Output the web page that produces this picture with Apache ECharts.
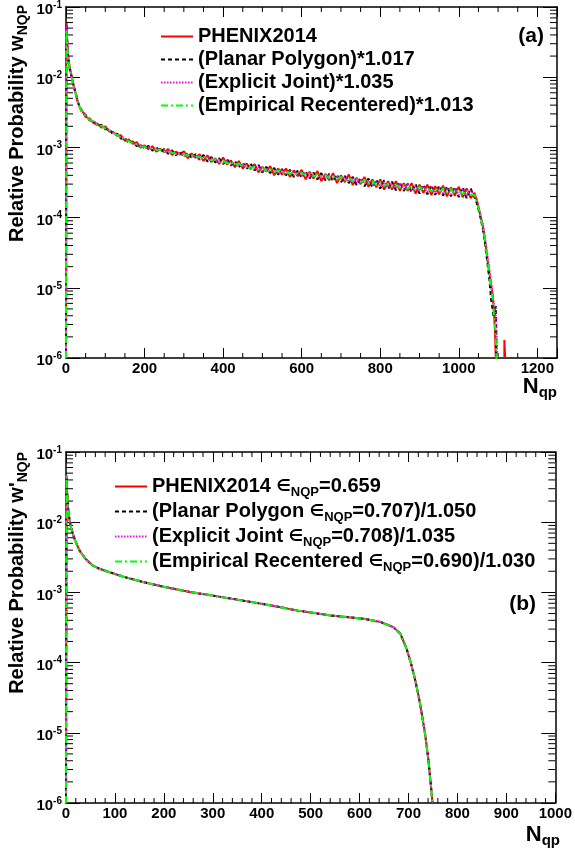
<!DOCTYPE html>
<html><head><meta charset="utf-8">
<script src="https://cdn.jsdelivr.net/npm/echarts@6/dist/echarts.min.js"></script>
<style>html,body{margin:0;padding:0;background:#fff}#c{width:575px;height:849px}</style>
</head><body><div id="c"></div><script>
// ---------- data: panel (a) ----------
const nqpTop = [0,1,2,3,4,5,7,10,15,20,25,30,35,
40,50,60,70,80,90,100,110,120,130,140,150,160,170,180,190,200,210,220,230,240,250,260,270,280,290,300,
310,320,330,340,350,360,370,380,390,400,410,420,430,440,450,460,470,480,490,500,510,520,530,540,550,
560,570,580,590,600,610,620,630,640,650,660,670,680,690,700,710,720,730,740,750,760,770,780,790,800,
810,820,830,840,850,860,870,880,890,900,910,920,930,940,950,960,970,980,990,1000,1010,1020,1030,1040,
1046,1052,1056,1061,1066,1070,1074,1078,1082,1086,1089,1092,1094,1096,1098];
const phenixTop = [1e-6,0.062,0.044,0.033,0.027,0.022,0.017,0.0135,0.0100,0.0074,0.0058,0.0044,0.0037,
34e-4,27.2e-4,25.9e-4,22.1e-4,21.8e-4,19.2e-4,19.9e-4,16.9e-4,16.6e-4,14.6e-4,14.9e-4,12.4e-4,13.0e-4,11.2e-4,11.9e-4,9.9e-4,10.7e-4,
9.4e-4,10.4e-4,8.7e-4,9.6e-4,8.5e-4,9.5e-4,7.8e-4,8.7e-4,7.9e-4,8.8e-4,7.0e-4,8.2e-4,7.1e-4,8.0e-4,6.4e-4,7.7e-4,6.2e-4,7.0e-4,5.8e-4,7.2e-4,
5.7e-4,6.5e-4,5.2e-4,6.4e-4,5.0e-4,5.9e-4,4.9e-4,5.8e-4,4.4e-4,5.3e-4,4.5e-4,5.4e-4,4.0e-4,5.0e-4,4.1e-4,5.0e-4,3.8e-4,4.7e-4,3.9e-4,4.8e-4,
3.5e-4,4.5e-4,3.6e-4,4.6e-4,3.3e-4,4.2e-4,3.4e-4,4.3e-4,3.1e-4,4.0e-4,3.2e-4,4.1e-4,2.9e-4,3.7e-4,3.0e-4,3.8e-4,2.75e-4,3.5e-4,2.7e-4,3.5e-4,
2.5e-4,3.3e-4,2.5e-4,3.3e-4,2.4e-4,3.1e-4,2.4e-4,3.1e-4,2.2e-4,2.95e-4,2.25e-4,2.95e-4,2.1e-4,2.8e-4,2.15e-4,2.85e-4,2.0e-4,2.7e-4,2.05e-4,2.75e-4,
1.95e-4,2.6e-4,1.9e-4,2.25e-4,
1.75e-4,1.25e-4,1.0e-4,7.8e-5,5.0e-5,3.4e-5,2.3e-5,1.6e-5,1.15e-5,8.0e-6,5.0e-6,2.5e-6,1e-6,1e-6,1e-6];
const planarTop = [1e-6,0.058,0.043,0.034,0.026,0.021,0.0165,0.0128,0.0098,0.0073,0.0059,0.0045,0.0038,
32.5e-4,29.0e-4,24.3e-4,23.8e-4,20.2e-4,21.0e-4,18.1e-4,18.2e-4,15.3e-4,15.7e-4,13.3e-4,13.8e-4,11.5e-4,12.2e-4,10.4e-4,11.0e-4,9.6e-4,
10.5e-4,9.0e-4,10.0e-4,8.6e-4,9.5e-4,8.1e-4,9.1e-4,7.7e-4,8.7e-4,7.3e-4,8.5e-4,7.0e-4,8.0e-4,6.7e-4,7.8e-4,6.3e-4,7.3e-4,6.1e-4,7.0e-4,5.8e-4,
6.8e-4,5.5e-4,6.4e-4,5.2e-4,6.1e-4,4.9e-4,5.9e-4,4.7e-4,5.6e-4,4.4e-4,5.3e-4,4.3e-4,5.1e-4,4.1e-4,4.9e-4,4.0e-4,4.8e-4,3.8e-4,4.7e-4,3.7e-4,
4.6e-4,3.6e-4,4.4e-4,3.5e-4,4.3e-4,3.4e-4,4.2e-4,3.3e-4,4.1e-4,3.2e-4,3.9e-4,3.1e-4,3.8e-4,2.9e-4,3.7e-4,2.8e-4,3.6e-4,2.7e-4,3.45e-4,2.6e-4,
3.4e-4,2.55e-4,3.25e-4,2.45e-4,3.2e-4,2.4e-4,3.05e-4,2.3e-4,3.0e-4,2.2e-4,2.95e-4,2.15e-4,2.9e-4,2.1e-4,2.85e-4,2.05e-4,2.8e-4,2.0e-4,2.75e-4,1.95e-4,
2.7e-4,1.9e-4,2.6e-4,1.95e-4,
1.6e-4,1.2e-4,9.5e-5,7.0e-5,4.6e-5,3.0e-5,2.0e-5,1.3e-5,7.0e-6,5.0e-6,3.8e-6,4.2e-6,5.5e-6,1e-6,1e-6];
const explicitTop = [1e-6,0.055,0.041,0.032,0.026,0.0215,0.0163,0.013,0.0097,0.0072,0.0057,0.0045,0.0037,
33.4e-4,28.6e-4,24.6e-4,23.5e-4,20.6e-4,20.4e-4,18.6e-4,17.9e-4,15.8e-4,15.4e-4,13.6e-4,13.4e-4,11.8e-4,11.9e-4,10.6e-4,10.8e-4,9.8e-4,
10.1e-4,9.2e-4,9.7e-4,8.8e-4,9.2e-4,8.3e-4,8.8e-4,8.0e-4,8.4e-4,7.6e-4,8.1e-4,7.2e-4,7.7e-4,6.9e-4,7.4e-4,6.6e-4,7.0e-4,6.3e-4,6.7e-4,6.0e-4,
6.4e-4,5.7e-4,6.1e-4,5.4e-4,5.8e-4,5.1e-4,5.6e-4,4.8e-4,5.3e-4,4.6e-4,5.1e-4,4.4e-4,4.9e-4,4.2e-4,4.8e-4,4.1e-4,4.6e-4,4.0e-4,4.5e-4,3.9e-4,
4.4e-4,3.8e-4,4.2e-4,3.7e-4,4.1e-4,3.6e-4,4.0e-4,3.5e-4,3.9e-4,3.4e-4,3.8e-4,3.25e-4,3.6e-4,3.15e-4,3.5e-4,3.05e-4,3.4e-4,2.9e-4,3.3e-4,2.8e-4,
3.2e-4,2.7e-4,3.1e-4,2.6e-4,3.05e-4,2.55e-4,2.95e-4,2.45e-4,2.85e-4,2.4e-4,2.8e-4,2.3e-4,2.75e-4,2.25e-4,2.7e-4,2.2e-4,2.65e-4,2.15e-4,2.6e-4,2.1e-4,
2.55e-4,2.05e-4,2.45e-4,2.05e-4,
1.8e-4,1.3e-4,1.05e-4,8e-5,5.5e-5,3.8e-5,2.6e-5,1.8e-5,1.2e-5,8e-6,6e-6,5e-6,4e-6,3e-6,1e-6];
const empiricalTop = [1e-6,0.047,0.038,0.031,0.025,0.021,0.016,0.0128,0.0096,0.0072,0.0057,0.0045,0.0037,
32.8e-4,28.3e-4,24.8e-4,23.2e-4,20.8e-4,20.3e-4,18.7e-4,17.6e-4,16.0e-4,15.1e-4,14.0e-4,13.1e-4,12.3e-4,11.5e-4,11.1e-4,10.4e-4,10.2e-4,
9.7e-4,9.7e-4,9.2e-4,9.3e-4,8.7e-4,8.9e-4,8.3e-4,8.5e-4,7.9e-4,8.1e-4,7.6e-4,7.8e-4,7.2e-4,7.4e-4,6.9e-4,7.1e-4,6.5e-4,6.8e-4,6.2e-4,6.5e-4,
5.9e-4,6.2e-4,5.6e-4,5.9e-4,5.3e-4,5.6e-4,5.1e-4,5.3e-4,4.8e-4,5.1e-4,4.6e-4,4.9e-4,4.4e-4,4.7e-4,4.3e-4,4.6e-4,4.2e-4,4.45e-4,4.1e-4,4.35e-4,
3.95e-4,4.25e-4,3.85e-4,4.15e-4,3.75e-4,4.05e-4,3.65e-4,3.9e-4,3.5e-4,3.8e-4,3.4e-4,3.7e-4,3.25e-4,3.55e-4,3.15e-4,3.45e-4,3.05e-4,3.3e-4,2.9e-4,3.2e-4,
2.8e-4,3.05e-4,2.7e-4,2.95e-4,2.65e-4,2.9e-4,2.55e-4,2.8e-4,2.45e-4,2.75e-4,2.4e-4,2.7e-4,2.35e-4,2.6e-4,2.3e-4,2.6e-4,2.25e-4,2.55e-4,2.2e-4,2.5e-4,
2.15e-4,2.45e-4,2.1e-4,2.1e-4,
1.7e-4,1.25e-4,1.0e-4,7.5e-5,5e-5,3.3e-5,2.3e-5,1.5e-5,1.0e-5,7e-6,4.5e-6,3e-6,2e-6,1e-6,1e-6];
const phenixSpikeX = [1116,1116,1118,1118];
const phenixSpikeY = [1e-6,1.8e-6,1.8e-6,1e-6];

// ---------- data: panel (b) ----------
const nqpBot = [0,1,2,3,4,5,7,10,15,20,28,40,55,70,89,120,157,200,258,300,359,420,474,541,609,642,669,683,696,706,713,720,727,734,740,745,749];
const phenixBot = [1e-6,0.046,0.030,0.022,0.017,0.014,0.011,0.0085,0.0065,0.0052,0.0039,0.0030,0.0024,0.00215,0.00194,0.00165,0.00141,0.0012,0.00100,0.0009,0.00077,0.00065,0.00055,0.00047,0.00042,0.00038,0.00032,0.00026,0.000158,0.000092,0.000059,0.000035,0.000019,0.0000095,0.0000045,0.000002,0.000001];
const planarBot = [1e-6,0.044,0.030,0.022,0.017,0.014,0.011,0.0085,0.0065,0.0052,0.0039,0.0030,0.0024,0.00215,0.00194,0.00165,0.00141,0.0012,0.00100,0.0009,0.00077,0.00065,0.00055,0.00047,0.00042,0.00038,0.00032,0.00026,0.000158,0.000092,0.000059,0.000035,0.000019,0.0000095,0.0000045,0.000002,0.000001];
const explicitBot = [1e-6,0.047,0.030,0.022,0.017,0.014,0.011,0.0085,0.0065,0.0052,0.0039,0.0030,0.0024,0.00215,0.00194,0.00165,0.00141,0.0012,0.00100,0.0009,0.00077,0.00065,0.00055,0.00047,0.00042,0.00038,0.00032,0.00026,0.000158,0.000092,0.000059,0.000035,0.000019,0.0000095,0.0000045,0.000002,0.000001];
const empiricalBot = [1e-6,0.045,0.030,0.022,0.017,0.014,0.011,0.0085,0.0065,0.0052,0.0039,0.0030,0.0024,0.00215,0.00194,0.00165,0.00141,0.0012,0.00100,0.0009,0.00077,0.00065,0.00055,0.00047,0.00042,0.00038,0.00032,0.00026,0.000158,0.000092,0.000059,0.000035,0.000019,0.0000095,0.0000045,0.000002,0.000001];

// ---------- names / ticks ----------
const topNames = ['PHENIX2014','(Planar Polygon)*1.017','(Explicit Joint)*1.035','(Empirical Recentered)*1.013'];
const botNames = ['PHENIX2014 eNQP=0.659','(Planar Polygon eNQP=0.707)/1.050','(Explicit Joint eNQP=0.708)/1.035','(Empirical Recentered eNQP=0.690)/1.030'];
const botRich = {
  'PHENIX2014 eNQP=0.659':'{t|PHENIX2014 }{e|∈}{s|NQP}{t|=0.659}',
  '(Planar Polygon eNQP=0.707)/1.050':'{t|(Planar Polygon }{e|∈}{s|NQP}{t|=0.707)/1.050}',
  '(Explicit Joint eNQP=0.708)/1.035':'{t|(Explicit Joint }{e|∈}{s|NQP}{t|=0.708)/1.035}',
  '(Empirical Recentered eNQP=0.690)/1.030':'{t|(Empirical Recentered }{e|∈}{s|NQP}{t|=0.690)/1.030}'
};
const yMinorTicks = [];
for (let d = -6; d <= -2; d++) for (let k = 2; k <= 9; k++) yMinorTicks.push(k * Math.pow(10, d));
const topXMinor = []; for (let v = 50; v < 1250; v += 50) if (v % 200 !== 0) topXMinor.push(v);
const botXMinor = []; for (let v = 20; v < 1000; v += 20) if (v % 100 !== 0) botXMinor.push(v);

const F = "'Liberation Sans', Arial, Helvetica, sans-serif";
const colors = ['#ff0000','#000000','#ff00ff','#00ff00'];
const dashes = ['solid',[4,3],[1.5,1.5],[7,3,2,3]];

const pairs = (xs, ys) => xs.map((x, i) => [x, ys[i]]);

function xAx(grid, pos, max, interval, labels) {
  return {type:'value', gridIndex:grid, position:pos, min:0, max:max, interval:interval,
    axisLine:{show:true, onZero:false, lineStyle:{color:'#000', width:1.5}},
    axisTick:{show:true, inside:true, length:10, lineStyle:{color:'#000', width:1}},
    minorTick:{show:false}, splitLine:{show:false},
    axisLabel:{show:labels, margin:3, color:'#000', fontFamily:F, fontWeight:'bold', fontSize:15,
      formatter: v => (v % interval === 0 ? String(v) : '')}};
}
function yAx(grid, pos, labels) {
  return {type:'log', logBase:10, gridIndex:grid, position:pos, min:1e-6, max:1e-1, splitNumber:5,
    axisLine:{show:true, onZero:false, lineStyle:{color:'#000', width:1.5}},
    axisTick:{show:true, inside:true, length:14, lineStyle:{color:'#000', width:1}},
    minorTick:{show:false}, splitLine:{show:false},
    axisLabel:{show:labels, margin:4, padding:[6,0,0,0],
      formatter: v => '{b|10}{s|' + Math.round(Math.log10(v)) + '}',
      rich:{b:{fontFamily:F, fontWeight:'bold', fontSize:15, color:'#000', lineHeight:20},
            s:{fontFamily:F, fontWeight:'bold', fontSize:10, color:'#000', lineHeight:10, verticalAlign:'top'}}}};
}
function tickSeries(xi, yi, xMax, xMinor) {
  const data = [];
  yMinorTicks.forEach(v => data.push([0, v, 0]));
  xMinor.forEach(v => data.push([v, 1e-6, 1]));
  return {type:'custom', xAxisIndex:xi, yAxisIndex:yi, clip:false, silent:true, z:5,
    encode:{x:0, y:1}, data:data,
    renderItem:(params, api) => {
      const kind = api.value(2);
      const st = {stroke:'#000', lineWidth:1};
      if (kind === 0) {
        const v = api.value(1);
        const a = api.coord([0, v]), b = api.coord([xMax, v]);
        return {type:'group', children:[
          {type:'line', shape:{x1:a[0], y1:a[1], x2:a[0]+7, y2:a[1]}, style:st},
          {type:'line', shape:{x1:b[0]-7, y1:b[1], x2:b[0], y2:b[1]}, style:st}]};
      }
      const v = api.value(0);
      const a = api.coord([v, 1e-6]), b = api.coord([v, 1e-1]);
      return {type:'group', children:[
        {type:'line', shape:{x1:a[0], y1:a[1], x2:a[0], y2:a[1]-5}, style:st},
        {type:'line', shape:{x1:b[0], y1:b[1], x2:b[0], y2:b[1]+5}, style:st}]};
    }};
}
function lineSeries(name, xi, yi, data, k, w) {
  return {type:'line', name:name, xAxisIndex:xi, yAxisIndex:yi, data:data, symbol:'none',
    showSymbol:false, animation:false, clip:true, z:3+k,
    lineStyle:{color:colors[k], width:w, type:dashes[k]}, itemStyle:{color:colors[k]}};
}

const topYs = [phenixTop, planarTop, explicitTop, empiricalTop];
const botYs = [phenixBot, planarBot, explicitBot, empiricalBot];
const series = [];
topYs.forEach((ys, k) => series.push(lineSeries(topNames[k], 0, 0, pairs(nqpTop, ys), k, 2)));
series.push(Object.assign(lineSeries('PHENIX2014 tail', 0, 0, pairs(phenixSpikeX, phenixSpikeY), 0, 2), {z:3}));
botYs.forEach((ys, k) => series.push(lineSeries(botNames[k], 2, 2, pairs(nqpBot, ys), k, 2)));
series.push(tickSeries(0, 0, 1250, topXMinor));
series.push(tickSeries(2, 2, 1000, botXMinor));

const legText = {fontFamily:F, fontWeight:'bold', fontSize:20, color:'#000'};
const option = {
  animation:false,
  backgroundColor:'#fff',
  grid:[{left:66, top:6, width:491, height:352}, {left:66, top:452, width:491, height:351}],
  xAxis:[xAx(0,'bottom',1250,200,true), xAx(0,'top',1250,200,false), xAx(1,'bottom',1000,100,true), xAx(1,'top',1000,100,false)],
  yAxis:[yAx(0,'left',true), yAx(0,'right',false), yAx(1,'left',true), yAx(1,'right',false)],
  legend:[
    {data:topNames, orient:'vertical', left:155, top:20, itemWidth:32, itemHeight:12, itemGap:0, selectedMode:false,
     itemStyle:{opacity:0},
     textStyle:Object.assign({lineHeight:23}, legText)},
    {data:botNames, orient:'vertical', left:109, top:469, itemWidth:32, itemHeight:12, itemGap:0, selectedMode:false,
     itemStyle:{opacity:0},
     formatter: n => botRich[n],
     textStyle:Object.assign({lineHeight:25}, legText, {rich:{
       t:Object.assign({lineHeight:25}, legText),
       e:{fontFamily:"'DejaVu Sans', sans-serif", fontSize:16, color:'#000', lineHeight:25},
       s:{fontFamily:F, fontWeight:'bold', fontSize:13, color:'#000', lineHeight:12, verticalAlign:'bottom'}}})}
  ],
  graphic:[
    {type:'text', x:17, y:5, rotation:Math.PI/2, style:{text:'{m|Relative Probability w}{s|NQP}', align:'right', verticalAlign:'middle',
      rich:{m:{fontFamily:F, fontWeight:'bold', fontSize:20, fill:'#000', lineHeight:26},
            s:{fontFamily:F, fontWeight:'bold', fontSize:14, fill:'#000', lineHeight:12, verticalAlign:'bottom'}}}},
    {type:'text', x:17, y:452, rotation:Math.PI/2, style:{text:"{m|Relative Probability w'}{s|NQP}", align:'right', verticalAlign:'middle',
      rich:{m:{fontFamily:F, fontWeight:'bold', fontSize:20, fill:'#000', lineHeight:26},
            s:{fontFamily:F, fontWeight:'bold', fontSize:14, fill:'#000', lineHeight:12, verticalAlign:'bottom'}}}},
    {type:'text', x:557, y:387, style:{text:'{m|N}{s|qp}', align:'right', verticalAlign:'middle',
      rich:{m:{fontFamily:F, fontWeight:'bold', fontSize:22, fill:'#000', lineHeight:26},
            s:{fontFamily:F, fontWeight:'bold', fontSize:15, fill:'#000', lineHeight:14, verticalAlign:'bottom'}}}},
    {type:'text', x:560, y:835, style:{text:'{m|N}{s|qp}', align:'right', verticalAlign:'middle',
      rich:{m:{fontFamily:F, fontWeight:'bold', fontSize:22, fill:'#000', lineHeight:26},
            s:{fontFamily:F, fontWeight:'bold', fontSize:15, fill:'#000', lineHeight:14, verticalAlign:'bottom'}}}},
    {type:'text', x:544, y:36, style:{text:'(a)', align:'right', verticalAlign:'middle', font:"bold 21px 'Liberation Sans', Arial, sans-serif", fill:'#000'}},
    {type:'text', x:536, y:604, style:{text:'(b)', align:'right', verticalAlign:'middle', font:"bold 21px 'Liberation Sans', Arial, sans-serif", fill:'#000'}}
  ],
  series:series
};
const chart = echarts.init(document.getElementById('c'), null, {renderer:'canvas'});
chart.setOption(option);
</script></body></html>
